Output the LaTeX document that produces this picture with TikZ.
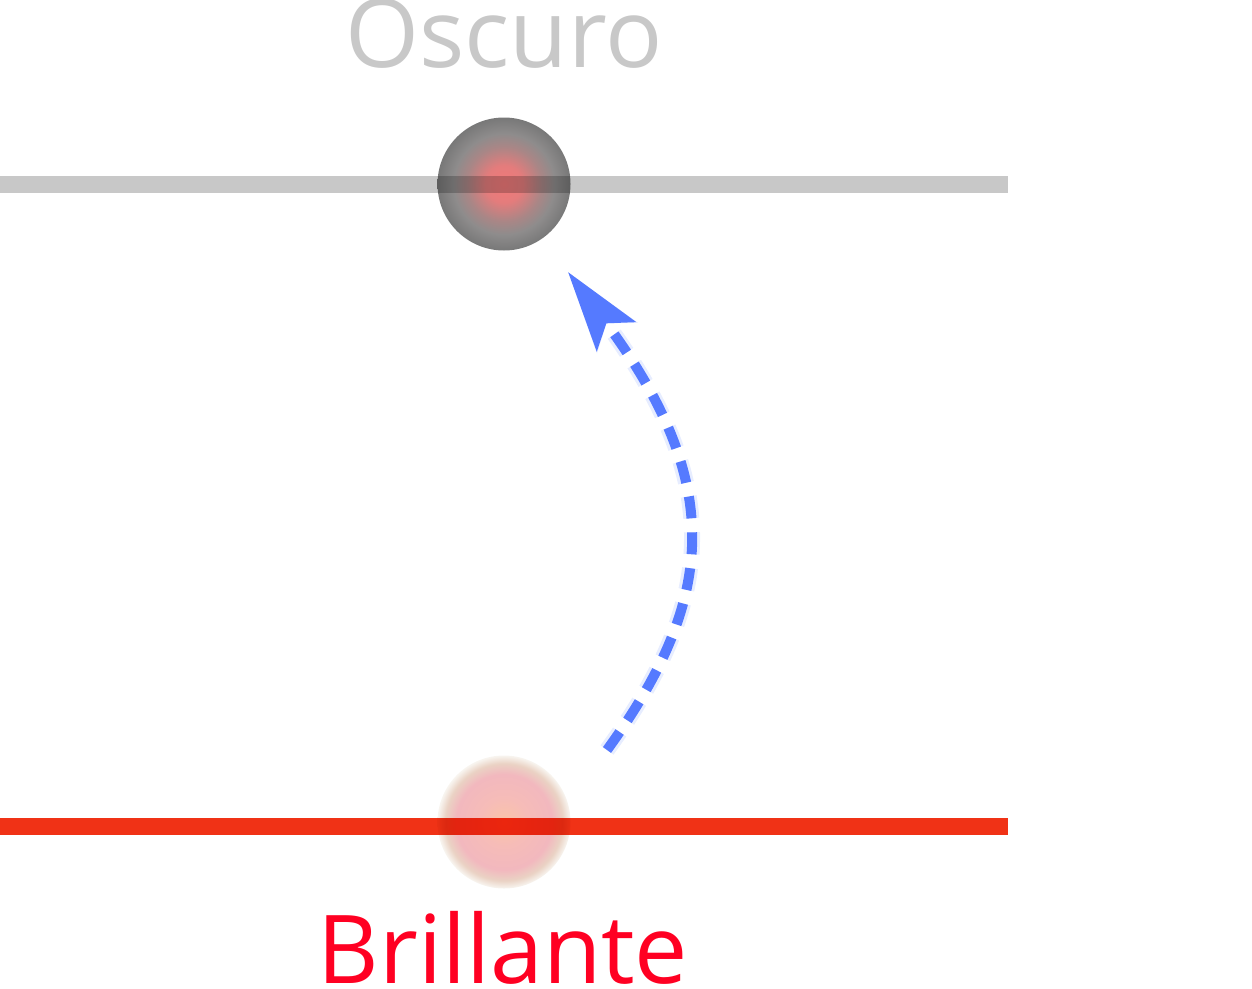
\documentclass[tikz,border=0pt]{standalone}
\usepackage{fontspec}
\setmainfont{Open Sans}
\usetikzlibrary{arrows.meta}
\definecolor{linegray}{RGB}{200,200,200}
\definecolor{linered}{RGB}{240,50,22}
\definecolor{txtred}{RGB}{255,0,34}
\definecolor{arrblue}{RGB}{85,122,255}
\definecolor{glowblue}{RGB}{160,182,255}
\definecolor{dA}{RGB}{242,122,122}
\definecolor{dB}{RGB}{228,124,124}
\definecolor{dC}{RGB}{170,134,134}
\definecolor{dD}{RGB}{142,140,140}
\definecolor{dE}{RGB}{120,120,120}
\definecolor{bA}{RGB}{250,196,168}
\definecolor{bB}{RGB}{246,188,184}
\definecolor{bC}{RGB}{242,184,190}
\definecolor{bD}{RGB}{234,210,196}
\definecolor{bE}{RGB}{248,245,240}
\pgfdeclareradialshading{darkball}{\pgfpoint{0bp}{0bp}}{color(0bp)=(dA); color(7bp)=(dB); color(14bp)=(dC); color(19bp)=(dD); color(25bp)=(dE); color(50bp)=(dE)}
\pgfdeclareradialshading{brightball}{\pgfpoint{0bp}{0bp}}{color(0bp)=(bA); color(9bp)=(bB); color(18bp)=(bC); color(22bp)=(bD); color(25bp)=(bE); color(50bp)=(bE)}
\newcommand\lblfont{\fontsize{95}{114}\selectfont}
\tikzset{
  ball/.style={circle, minimum size=133pt, inner sep=0pt, draw=none},
  level/.style={line width=17pt},
  lbl/.style={anchor=base, inner sep=0pt, font=\lblfont},
  jump/.style={line width=10pt, arrblue, dash pattern=on 22pt off 14pt,
    -{Stealth[length=80pt,width=48pt,inset=16pt]}},
  jumpglow/.style={line width=16pt, glowblue, opacity=0.25, dash pattern=on 22pt off 14pt,
    -{Stealth[length=80pt,width=48pt,inset=16pt]}},
}
\begin{document}
\begin{tikzpicture}[x=1pt,y=-1pt]
\useasboundingbox (0,0) rectangle (1252,988);
% circles
\node[ball, shading=darkball] (dark) at (504,184) {};
\node[ball, shading=brightball] (bright) at (504,822) {};
% level lines
\coordinate (topL) at (0,184);
\coordinate (topR) at (1008,184);
\coordinate (botL) at (0,826);
\coordinate (botR) at (1008,826);
\begin{scope}[blend mode=multiply]
\draw[level, linegray] (topL) -- (topR);
\draw[level, linered] (botL) -- (botR);
\end{scope}
% arrow
\coordinate (arrS) at (607,750);
\coordinate (arrE) at (568,272);
\draw[jumpglow] (arrS) .. controls (714,602) and (728,486) .. (arrE);
\draw[jump] (arrS) .. controls (714,602) and (728,486) .. (arrE);
% labels
\node[lbl, text=linegray] (oscuro) at (504,67) {Oscuro};
\node[lbl, text=txtred] (brillante) at (503,983) {Brillante};
\end{tikzpicture}
\end{document}
